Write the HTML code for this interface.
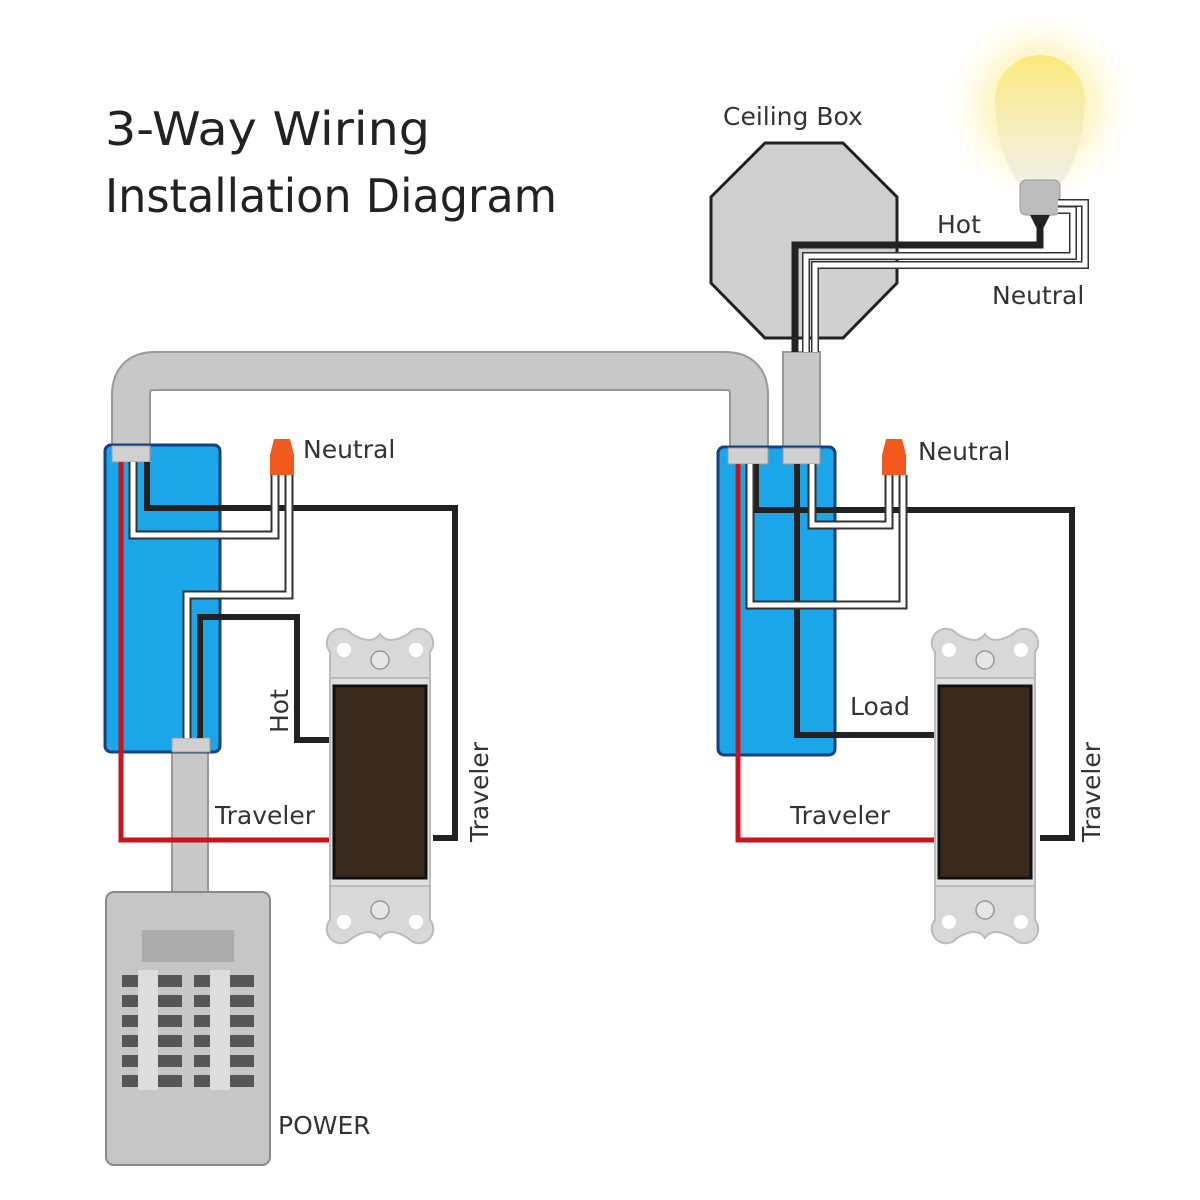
<!DOCTYPE html>
<html><head><meta charset="utf-8"><style>
html,body{margin:0;padding:0;background:#fff}
svg{display:block}
text{font-family:"DejaVu Sans","Liberation Sans",sans-serif;fill:#333}
</style></head><body>
<svg width="1200" height="1200" viewBox="0 0 1200 1200" xmlns="http://www.w3.org/2000/svg">
<defs>
<radialGradient id="glow" cx="0.5" cy="0.5" r="0.5">
<stop offset="0" stop-color="#fff09a"/><stop offset="0.55" stop-color="#fff5c4" stop-opacity="0.8"/><stop offset="1" stop-color="#fff" stop-opacity="0"/>
</radialGradient>
<linearGradient id="bulb" x1="0" y1="0" x2="0" y2="1">
<stop offset="0" stop-color="#fbe97a"/><stop offset="0.45" stop-color="#f8ecb0"/><stop offset="1" stop-color="#f2f0e6"/>
</linearGradient>
<g id="sw">
<path d="M0 22 a14 14 0 0 1 22 -18 q20 12 28 0 q8 12 28 0 a14 14 0 0 1 22 18 v34 h-100z" fill="#d8d8d8" stroke="#bbb" stroke-width="2"/>
<circle cx="14" cy="20" r="7" fill="#fff"/><circle cx="86" cy="20" r="7" fill="#fff"/>
<circle cx="50" cy="30" r="9" fill="#e6e6e6" stroke="#999" stroke-width="1.5"/>
<rect x="0" y="48" width="100" height="208" fill="#e0e0e0" stroke="#bbb" stroke-width="2"/>
<rect x="4" y="56" width="92" height="192" fill="#3a2a1e" stroke="#111" stroke-width="3"/>
<path d="M0 256 h100 v34 a14 14 0 0 1 -22 18 q-20 -12 -28 0 q-8 -12 -28 0 a14 14 0 0 1 -22 -18z" fill="#d8d8d8" stroke="#bbb" stroke-width="2"/>
<circle cx="14" cy="292" r="7" fill="#fff"/><circle cx="86" cy="292" r="7" fill="#fff"/>
<circle cx="50" cy="280" r="9" fill="#e6e6e6" stroke="#999" stroke-width="1.5"/>
</g>
</defs>

<text x="105" y="145" font-size="46" textLength="325" lengthAdjust="spacingAndGlyphs" style="fill:#222">3-Way Wiring</text>
<text x="105" y="212" font-size="46" textLength="452" lengthAdjust="spacingAndGlyphs" style="fill:#222">Installation Diagram</text>

<!-- conduit -->
<path d="M131 450 V395 Q131 371 155 371 H725 Q749 371 749 395 V450" fill="none" stroke="#999" stroke-width="40"/>
<path d="M131 450 V395 Q131 371 155 371 H725 Q749 371 749 395 V450" fill="none" stroke="#c8c8c8" stroke-width="36"/>
<rect x="783" y="352" width="37" height="100" fill="#c8c8c8" stroke="#999" stroke-width="2"/>
<rect x="172" y="745" width="36" height="150" fill="#c8c8c8" stroke="#999" stroke-width="2"/>

<!-- ceiling box -->
<polygon points="765,143 843,143 897,197 897,283 843,338 765,338 711,283 711,197" fill="#cfcfcf" stroke="#222" stroke-width="3"/>

<!-- bulb -->
<circle cx="1040" cy="105" r="100" fill="url(#glow)"/>
<path d="M995 100 a45 45 0 0 1 90 0 q0 45 -22 82 h-46 q-22 -37 -22 -82z" fill="url(#bulb)"/>
<rect x="1020" y="180" width="40" height="35" rx="6" fill="#bdbdbd" stroke="#999"/>
<path d="M1030 215 h20 l-6 12 h-8z" fill="#222"/>

<!-- ceiling wires -->
<path d="M795 352 V245 H1040 V225" fill="none" stroke="#222" stroke-width="7"/>
<path d="M806 352 V256 H1073 V210 H1058" fill="none" stroke="#333" stroke-width="8"/>
<path d="M806 352 V256 H1073 V210 H1058" fill="none" stroke="#fff" stroke-width="5"/>
<path d="M815 352 V265 H1085 V203 H1058" fill="none" stroke="#333" stroke-width="8"/>
<path d="M815 352 V265 H1085 V203 H1058" fill="none" stroke="#fff" stroke-width="5"/>

<!-- left box -->
<rect x="105" y="445" width="115" height="307" rx="6" fill="#1ba6ea" stroke="#1a3f80" stroke-width="3"/>
<rect x="112" y="446" width="38" height="16" fill="#d0d0d0" stroke="#999"/>
<rect x="172" y="738" width="38" height="14" fill="#d0d0d0" stroke="#999"/>
<path d="M147 462 V508 H455 V838 H433" fill="none" stroke="#222" stroke-width="6"/>
<path d="M133 462 V535 H275 V475" fill="none" stroke="#333" stroke-width="9"/>
<path d="M133 462 V535 H275 V475" fill="none" stroke="#fff" stroke-width="5"/>
<path d="M187 738 V595 H289 V475" fill="none" stroke="#333" stroke-width="9"/>
<path d="M187 738 V595 H289 V475" fill="none" stroke="#fff" stroke-width="5"/>
<path d="M200 738 V617 H297 V740 H330" fill="none" stroke="#222" stroke-width="6"/>
<path d="M121 462 V840 H330" fill="none" stroke="#c8141c" stroke-width="5"/>
<path d="M270 455 l4 -16 h16 l4 16 v20 h-24z" fill="#f25a1d"/>

<!-- right box -->
<rect x="718" y="447" width="117" height="308" rx="6" fill="#1ba6ea" stroke="#1a3f80" stroke-width="3"/>
<rect x="728" y="448" width="40" height="16" fill="#d0d0d0" stroke="#999"/>
<rect x="783" y="448" width="37" height="16" fill="#d0d0d0" stroke="#999"/>
<path d="M756 464 V510 H1072 V838 H1040" fill="none" stroke="#222" stroke-width="6"/>
<path d="M797 464 V735 H935" fill="none" stroke="#222" stroke-width="6"/>
<path d="M750 464 V605 H903 V475" fill="none" stroke="#333" stroke-width="9"/>
<path d="M750 464 V605 H903 V475" fill="none" stroke="#fff" stroke-width="5"/>
<path d="M812 464 V525 H889 V475" fill="none" stroke="#333" stroke-width="9"/>
<path d="M812 464 V525 H889 V475" fill="none" stroke="#fff" stroke-width="5"/>
<path d="M738 464 V840 H935" fill="none" stroke="#c8141c" stroke-width="5"/>
<path d="M882 455 l4 -16 h16 l4 16 v20 h-24z" fill="#f25a1d"/>

<use href="#sw" x="330" y="630"/>
<use href="#sw" x="935" y="630"/>

<!-- panel -->
<rect x="106" y="892" width="164" height="273" rx="8" fill="#c6c6c6" stroke="#888" stroke-width="2"/>
<rect x="142" y="930" width="92" height="32" fill="#ababab"/>
<g fill="#555">
<rect x="122" y="975" width="60" height="12"/><rect x="122" y="995" width="60" height="12"/><rect x="122" y="1015" width="60" height="12"/><rect x="122" y="1035" width="60" height="12"/><rect x="122" y="1055" width="60" height="12"/><rect x="122" y="1075" width="60" height="12"/>
<rect x="194" y="975" width="60" height="12"/><rect x="194" y="995" width="60" height="12"/><rect x="194" y="1015" width="60" height="12"/><rect x="194" y="1035" width="60" height="12"/><rect x="194" y="1055" width="60" height="12"/><rect x="194" y="1075" width="60" height="12"/>
</g>
<g fill="#ddd"><rect x="138" y="970" width="20" height="120"/><rect x="210" y="970" width="20" height="120"/></g>

<text x="723" y="125" font-size="25">Ceiling Box</text>
<text x="937" y="233" font-size="25">Hot</text>
<text x="992" y="304" font-size="25">Neutral</text>
<text x="303" y="458" font-size="25">Neutral</text>
<text x="918" y="460" font-size="25">Neutral</text>
<text x="850" y="715" font-size="25">Load</text>
<text x="215" y="824" font-size="25">Traveler</text>
<text x="790" y="824" font-size="25">Traveler</text>
<text transform="translate(288,733) rotate(-90)" font-size="25">Hot</text>
<text transform="translate(488,842) rotate(-90)" font-size="25">Traveler</text>
<text transform="translate(1100,842) rotate(-90)" font-size="25">Traveler</text>
<text x="278" y="1134" font-size="25">POWER</text>
</svg>
</body></html>
